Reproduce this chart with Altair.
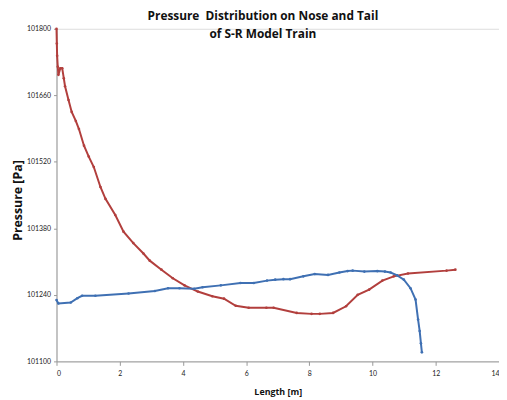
import altair as alt
import pandas as pd

red_x = [0.0, 0.01, 0.02, 0.04, 0.06, 0.12, 0.18, 0.23, 0.27, 0.38, 0.48, 0.61, 0.71, 0.87, 1.02,
         1.18, 1.39, 1.55, 1.86, 2.12, 2.43, 2.75, 2.95, 3.32, 3.68, 4.05, 4.47, 4.93, 5.30, 5.67,
         6.08, 6.64, 6.87, 7.60, 8.07, 8.33, 8.75, 9.16, 9.53, 9.89, 10.31, 10.67, 11.12, 12.34, 12.62]
red_p = [101800, 101769, 101743, 101720, 101703, 101717, 101717, 101696, 101679, 101650, 101625,
         101606, 101589, 101554, 101531, 101509, 101467, 101442, 101408, 101373, 101349, 101327,
         101312, 101293, 101275, 101260, 101247, 101237, 101232, 101217, 101213, 101213, 101213,
         101202, 101200, 101200, 101202, 101216, 101240, 101251, 101270, 101279, 101285, 101291, 101293]

blue_x = [0.0, 0.06, 0.45, 0.66, 0.81, 1.23, 2.28, 3.11, 3.53, 3.89, 4.36, 4.62, 5.20, 5.82, 6.24,
          6.66, 6.92, 7.18, 7.39, 7.81, 8.17, 8.59, 8.95, 9.21, 9.37, 9.74, 10.15, 10.39, 10.57,
          10.78, 10.99, 11.20, 11.36, 11.44, 11.49, 11.53, 11.56]
blue_p = [101229, 101222, 101224, 101233, 101238, 101238, 101243, 101248, 101254, 101254, 101253,
          101256, 101260, 101265, 101265, 101270, 101272, 101273, 101273, 101279, 101284, 101282,
          101287, 101290, 101291, 101289, 101290, 101289, 101287, 101281, 101272, 101254, 101230,
          101188, 101164, 101138, 101119]

y_ticks = [101100, 101240, 101380, 101520, 101660, 101800]
x_ticks = [0, 2, 4, 6, 8, 10, 12, 14]

rows = []
for i, (x, p) in enumerate(zip(red_x, red_p)):
    rows.append({"series": "Nose", "x": x, "p": p, "o": i})
for i, (x, p) in enumerate(zip(blue_x, blue_p)):
    rows.append({"series": "Tail", "x": x, "p": p, "o": i})
df = pd.DataFrame(rows)

FONT = "Lato"
TFONT = "Open Sans"

chart = alt.Chart(df).mark_line(
    strokeWidth=2,
    point=alt.OverlayMarkDef(size=7, filled=True, opacity=1),
).encode(
    x=alt.X("x:Q", scale=alt.Scale(domain=[0, 14], nice=False),
            axis=alt.Axis(values=x_ticks, title="Length [m]", grid=False, format="d",
                          labelFontSize=7, labelFont=FONT, labelColor="#222",
                          titleFont=TFONT, titleFontSize=9, titleFontWeight="bold",
                          titleColor="#111", titleY=30, titleBaseline="middle",
                          domainColor="#999", tickColor="#999", tickSize=4, labelPadding=4)),
    y=alt.Y("p:Q", scale=alt.Scale(domain=[101100, 101800], nice=False, zero=False),
            axis=alt.Axis(values=y_ticks, title="Pressure [Pa]", grid=False, format="d",
                          labelFontSize=7, labelFont=FONT, labelColor="#222",
                          titleFont=TFONT, titleFontSize=12.5, titleFontWeight="bold",
                          titleColor="#111", titleX=-39, titleY=173, titleAngle=270,
                          titleAlign="center", titleBaseline="middle",
                          domainColor="#999", tickColor="#999", tickSize=3, labelPadding=3)),
    color=alt.Color("series:N", scale=alt.Scale(domain=["Nose", "Tail"],
                                                range=["#B23F3D", "#3F70B3"]), legend=None),
    order="o:Q",
    detail="series:N",
).properties(
    width=447,
    height=336,
    title=alt.TitleParams(
        text=["Pressure \u00a0Distribution on Nose and Tail", "of S-R Model Train"],
        font=TFONT, fontSize=12, fontWeight="bold", color="#111",
        anchor="middle", offset=-16, lineHeight=17.5, dx=-15,
    ),
    autosize=alt.AutoSizeParams(type="none"),
    padding={"left": 49, "top": 19, "right": 0, "bottom": 35},
).configure_view(stroke=None).configure(background="white")

chart.save("out.html", embed_options={"renderer": "svg", "actions": False})
